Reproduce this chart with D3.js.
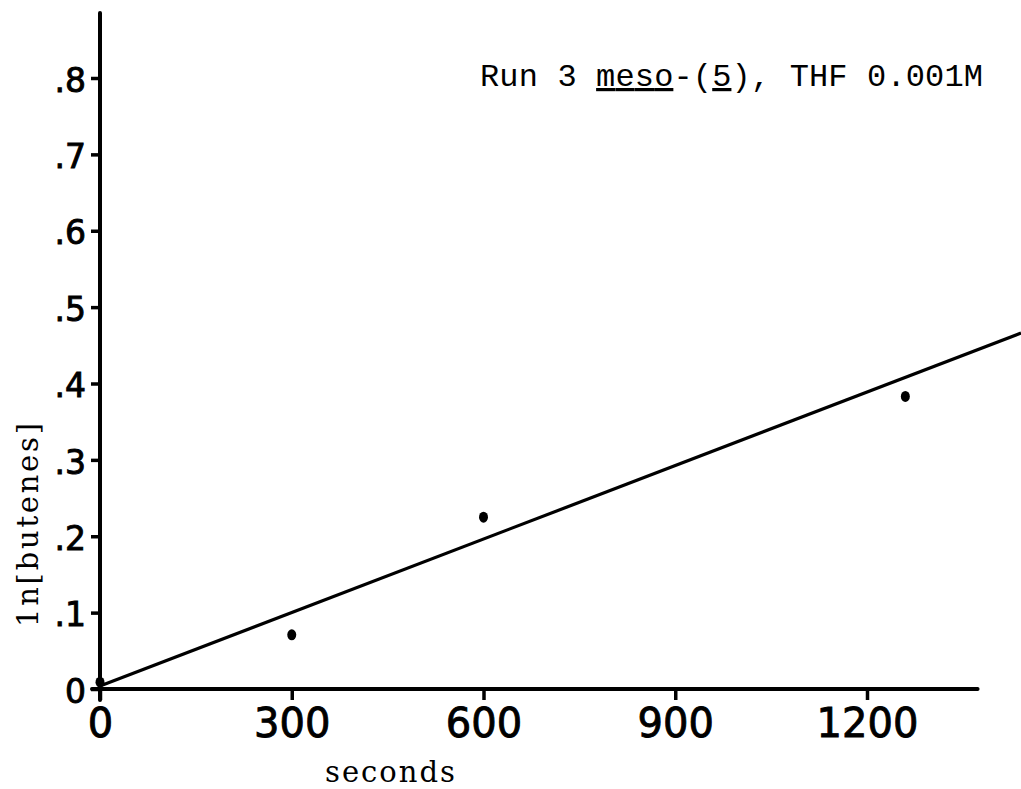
<!DOCTYPE html>
<html>
<head>
<meta charset="utf-8">
<script src="https://cdn.jsdelivr.net/npm/d3@7"></script>
<style>
  html, body { margin: 0; padding: 0; background: #fff; }
  svg { display: block; }
</style>
</head>
<body>
<svg id="chart" width="1021" height="789"></svg>
<script>
// ---- data ----
const seconds = [0, 300, 600, 1260];
const lnButenes = [0.009, 0.071, 0.225, 0.383];
const fitLine = [[0, 0.004], [1441, 0.466]];
const xTicks = [0, 300, 600, 900, 1200];
const yTicks = [0, 0.1, 0.2, 0.3, 0.4, 0.5, 0.6, 0.7, 0.8];
const yTickLabels = ["0", ".1", ".2", ".3", ".4", ".5", ".6", ".7", ".8"];
const titleParts = ["Run 3 ", "meso", "-(", "5", "), THF 0.001M"];

// ---- layout ----
const svg = d3.select("#chart");
const x = d3.scaleLinear().domain([0, 1200]).range([100, 867]);
const y = d3.scaleLinear().domain([0, 0.8]).range([689, 78]);
const xMax = 1373, yMax = 0.885;
const ink = "#000";

svg.append("defs").append("clipPath").attr("id", "clip")
  .append("rect").attr("x", 0).attr("y", 0).attr("width", 1021).attr("height", 789);

// x axis
const xAxis = d3.axisBottom(x).tickValues(xTicks).tickSize(11).tickPadding(9)
  .tickFormat(d3.format("d"));
const gx = svg.append("g").attr("transform", `translate(0,${y(0)})`).call(xAxis);
gx.select(".domain").remove();
gx.selectAll(".tick line").attr("stroke", ink).attr("stroke-width", 3.5);
gx.selectAll(".tick text").attr("fill", ink).attr("stroke", ink).attr("stroke-width", 0.9)
  .style("font-family", "'DejaVu Sans', sans-serif").style("font-size", "40px");
svg.append("line")
  .attr("x1", x(0) - 8).attr("x2", x(xMax))
  .attr("y1", y(0)).attr("y2", y(0))
  .attr("stroke", ink).attr("stroke-width", 4).attr("stroke-linecap", "round");

// y axis
const yAxis = d3.axisLeft(y).tickValues(yTicks).tickSize(9).tickPadding(5)
  .tickFormat((d, i) => yTickLabels[i]);
const gy = svg.append("g").attr("transform", `translate(${x(0)},0)`).call(yAxis);
gy.select(".domain").remove();
gy.selectAll(".tick line").attr("stroke", ink).attr("stroke-width", 3.5);
gy.selectAll(".tick text").attr("fill", ink).attr("stroke", ink).attr("stroke-width", 0.9)
  .attr("dy", "0.4em")
  .style("font-family", "'DejaVu Sans', sans-serif").style("font-size", "33px");
svg.append("line")
  .attr("x1", x(0)).attr("x2", x(0))
  .attr("y1", y(yMax)).attr("y2", y(0) + 11)
  .attr("stroke", ink).attr("stroke-width", 4).attr("stroke-linecap", "round");

// fit line
svg.append("path")
  .datum(fitLine)
  .attr("clip-path", "url(#clip)")
  .attr("d", d3.line().x(d => x(d[0])).y(d => y(d[1])))
  .attr("fill", "none").attr("stroke", ink).attr("stroke-width", 3.2);

// points
svg.selectAll("ellipse.pt")
  .data(seconds.map((s, i) => [s, lnButenes[i]]))
  .join("ellipse").attr("class", "pt")
  .attr("cx", d => x(d[0])).attr("cy", d => y(d[1]))
  .attr("rx", 4.5).attr("ry", 5.5).attr("fill", ink);

// axis titles
svg.append("text")
  .attr("x", 390).attr("y", 782).attr("text-anchor", "middle")
  .attr("textLength", 130).attr("lengthAdjust", "spacing")
  .style("font-family", "'DejaVu Serif', serif").style("font-size", "29px")
  .attr("fill", ink).text("seconds");

svg.append("text")
  .attr("transform", "translate(38,525) rotate(-90)")
  .attr("text-anchor", "middle")
  .attr("textLength", 204).attr("lengthAdjust", "spacing")
  .style("font-family", "'DejaVu Serif', serif").style("font-size", "29px")
  .attr("fill", ink).text("1n[butenes]");

// chart title
const title = svg.append("text")
  .attr("x", 480).attr("y", 86)
  .attr("textLength", 503).attr("lengthAdjust", "spacing")
  .style("font-family", "'Liberation Mono', monospace").style("font-size", "32px")
  .attr("fill", ink).attr("xml:space", "preserve");
title.selectAll("tspan").data(titleParts).join("tspan")
  .style("text-decoration", (d, i) => (i === 1 || i === 3) ? "underline" : "none")
  .text(d => d);
</script>
</body>
</html>
